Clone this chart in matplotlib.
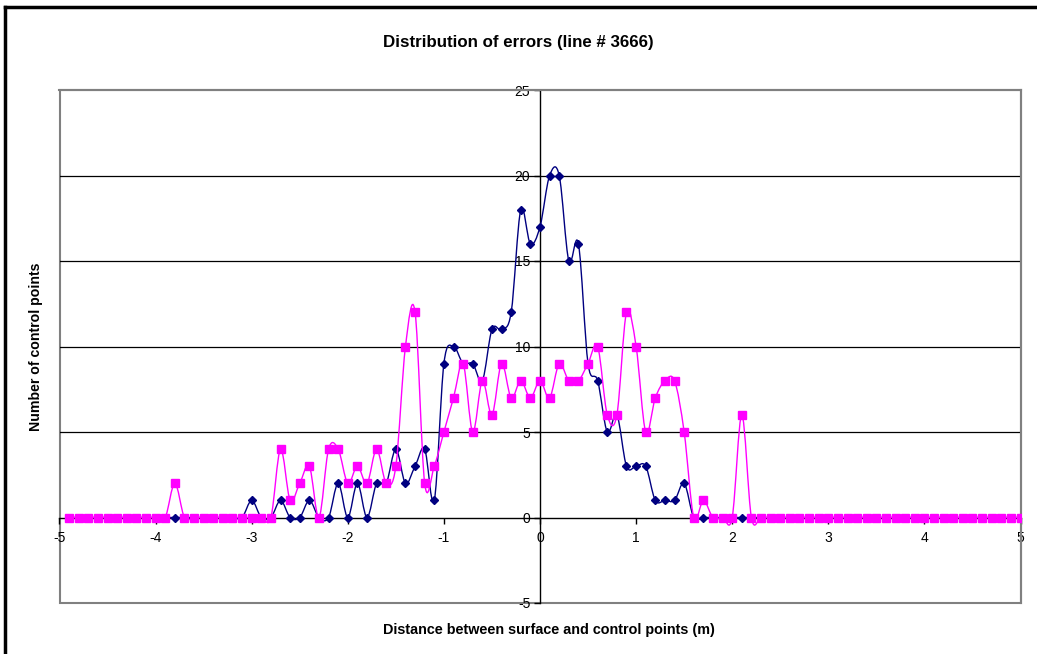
import matplotlib
matplotlib.use("Agg")
import matplotlib.pyplot as plt
import numpy as np
from matplotlib.path import Path
from matplotlib.patches import PathPatch, Rectangle
from matplotlib.lines import Line2D

plt.rcParams['font.family'] = ['Liberation Sans', 'DejaVu Sans']
plt.rcParams['axes.unicode_minus'] = False

# distance bins (m), -4.9 .. 5.0 in steps of 0.1
dist = np.round(np.arange(-49, 51) / 10.0, 1)

# counts per bin, first series (navy diamonds)
counts_a = ([0] * 19 +
            [1, 0, 0, 1, 0, 0, 1, 0, 0, 2, 0, 2, 0, 2, 2, 4, 2, 3, 4, 1,
             9, 10, 9, 9, 8, 11, 11, 12, 18, 16, 17, 20, 20, 15, 16, 9, 8, 5, 6, 3,
             3, 3, 1, 1, 1, 2] +
            [0] * 35)

# counts per bin, second series (magenta squares)
counts_b = ([0] * 11 + [2] + [0] * 10 +
            [4, 1, 2, 3, 0, 4, 4, 2, 3, 2, 4, 2, 3, 10, 12, 2, 3, 5, 7, 9,
             5, 8, 6, 9, 7, 8, 7, 8, 7, 9, 8, 8, 9, 10, 6, 6, 12, 10, 5, 7,
             8, 8, 5, 0, 1, 0, 0, 0, 6] +
            [0] * 29)

x_ticks = [-5, -4, -3, -2, -1, 0, 1, 2, 3, 4, 5]
y_ticks = [-5, 0, 5, 10, 15, 20, 25]


def smooth_path(xs, ys):
    # cubic bezier segments through every point (Catmull-Rom style, like a spreadsheet "smoothed line")
    pts = np.column_stack([xs, ys]).astype(float)
    n = len(pts)
    verts = [pts[0]]
    codes = [Path.MOVETO]
    for i in range(n - 1):
        p0 = pts[i - 1] if i > 0 else pts[i]
        p1 = pts[i]
        p2 = pts[i + 1]
        p3 = pts[i + 2] if i + 2 < n else pts[i + 1]
        c1 = p1 + (p2 - p0) / 6.0
        c2 = p2 - (p3 - p1) / 6.0
        verts += [c1, c2, p2]
        codes += [Path.CURVE4] * 3
    return Path(verts, codes)


fig = plt.figure(figsize=(10.37, 6.54), dpi=100)
ax = fig.add_axes([59.5 / 1037, 1 - 603 / 654, 961 / 1037, 513 / 654])

ax.set_xlim(-5, 5)
ax.set_ylim(-5, 25)

# horizontal gridlines
for yv in [5, 10, 15, 20]:
    ax.axhline(yv, color='black', lw=0.9, zorder=1)

# navy series
ax.add_patch(PathPatch(smooth_path(dist, counts_a), facecolor='none',
                       edgecolor='#000080', lw=1.0, zorder=3))
ax.plot(dist, counts_a, ls='none', marker='D', ms=4.5, color='#000080', zorder=4)

# magenta series
ax.add_patch(PathPatch(smooth_path(dist, counts_b), facecolor='none',
                       edgecolor='#FF00FF', lw=1.0, zorder=5))
ax.plot(dist, counts_b, ls='none', marker='s', ms=5.5, color='#FF00FF', zorder=6)

# axes cross at zero, plot area has a grey frame
ax.spines['left'].set_position(('data', 0))
ax.spines['bottom'].set_position(('data', 0))
ax.spines['left'].set_color('black')
ax.spines['bottom'].set_color('black')
ax.spines['left'].set_linewidth(1.0)
ax.spines['bottom'].set_linewidth(1.0)
for side in ['top', 'right']:
    ax.spines[side].set_color('#808080')
    ax.spines[side].set_linewidth(1.5)
ax.add_patch(Rectangle((0, 0), 1, 1, transform=ax.transAxes, fill=False,
                       edgecolor='#808080', lw=1.5, zorder=0, clip_on=False))

ax.set_xticks(x_ticks)
ax.set_yticks(y_ticks)
ax.tick_params(direction='out', length=4, width=1, labelsize=10, pad=3, colors='black')
ax.tick_params(axis='x', pad=6)

fig.text(518 / 1037, 1 - 42 / 654, 'Distribution of errors (line # 3666)',
         ha='center', va='center', fontsize=12.2, fontweight='bold')
fig.text(549 / 1037, 1 - 630 / 654, 'Distance between surface and control points (m)',
         ha='center', va='center', fontsize=10.4, fontweight='bold')
fig.text(36 / 1037, 1 - 347 / 654, 'Number of control points',
         ha='center', va='center', fontsize=10.2, fontweight='bold', rotation=90)

# outer chart border (left and top edges)
fig.add_artist(Line2D([5 / 1037, 5 / 1037], [0, 1 - 7 / 654], transform=fig.transFigure,
                      color='black', lw=2.5))
fig.add_artist(Line2D([5 / 1037, 1], [1 - 7 / 654, 1 - 7 / 654], transform=fig.transFigure,
                      color='black', lw=2.5))

fig.savefig('out.png', dpi=100)
